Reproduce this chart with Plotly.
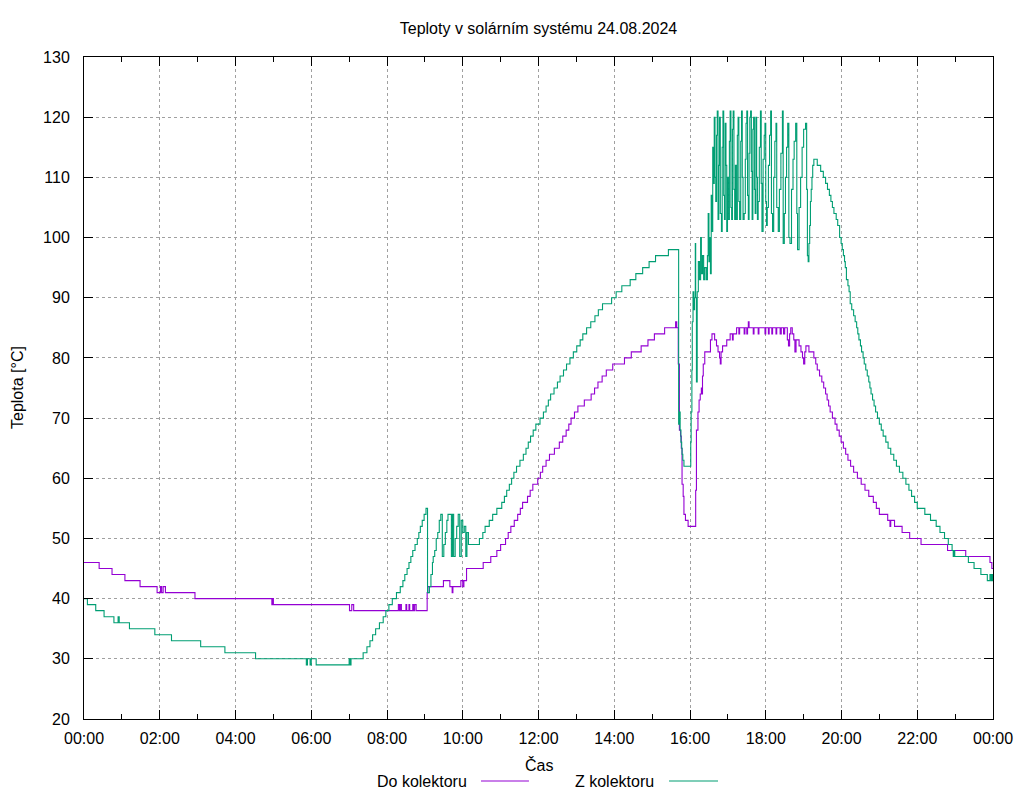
import plotly.graph_objects as go

# ---------------- data (time in hours, temperature in °C) ----------------
do_t = [0.00, 0.40, 0.74, 1.08, 1.48, 1.93, 2.02, 2.05, 2.09, 2.15, 2.93, 4.96, 4.98, 5.00,
        7.01, 7.07, 7.12, 8.30, 8.33, 8.36, 8.38, 8.50, 8.52, 8.58, 8.60, 8.68, 8.70, 8.73, 8.77,
        9.06, 9.08, 9.49, 9.66, 9.72, 9.74, 9.95, 10.00, 10.03, 10.10, 10.54, 10.74, 10.90,
        11.00, 11.13, 11.20, 11.27, 11.36, 11.45, 11.52, 11.58, 11.71, 11.78, 11.85, 11.98,
        12.05, 12.11, 12.20, 12.29, 12.42, 12.55, 12.64, 12.73, 12.80, 12.86, 12.95, 13.04,
        13.21, 13.39, 13.48, 13.57, 13.68, 13.79, 13.96, 14.27, 14.45, 14.71, 14.89, 15.06,
        15.33, 15.62, 15.65, 15.69, 15.72, 15.75, 15.77, 15.79, 15.82, 15.84, 15.88, 15.95,
        16.15, 16.17, 16.21, 16.24, 16.27, 16.30, 16.31, 16.33, 16.35, 16.39, 16.54, 16.58,
        16.65, 16.70, 16.74, 16.78, 16.80, 16.82, 16.86, 16.97, 17.06, 17.12, 17.14, 17.23,
        17.29, 17.31, 17.43, 17.45, 17.50, 17.52, 17.54, 17.56, 17.67, 17.69, 17.80, 17.82,
        17.98, 18.00, 18.07, 18.09, 18.16, 18.18, 18.27, 18.29, 18.38, 18.41, 18.47, 18.50,
        18.57, 18.60, 18.63, 18.66, 18.70, 18.74, 18.77, 18.80, 18.88, 18.93, 18.97, 19.00,
        19.03, 19.06, 19.14, 19.27, 19.32, 19.36, 19.42, 19.48, 19.53, 19.58, 19.62, 19.66,
        19.70, 19.76, 19.83, 19.88, 19.94, 19.99, 20.05, 20.11, 20.17, 20.24, 20.32, 20.42,
        20.52, 20.62, 20.72, 20.84, 20.92, 21.00, 21.22, 21.28, 21.30, 21.40, 21.60, 21.80,
        22.10, 22.80, 23.28, 23.92, 23.97, 24.00]
do_v = [46, 45, 44, 43, 42, 41, 42, 41, 42, 41, 40, 39, 40, 39,
        38, 39, 38, 39, 38, 39, 38, 39, 38, 39, 38, 39, 38, 39, 38,
        41, 42, 43, 42, 41, 42, 43, 42, 43, 45, 46, 47, 48,
        49, 50, 51, 52, 53, 54, 55, 56, 57, 58, 59, 60,
        61, 62, 63, 64, 65, 66, 67, 68, 69, 70, 71, 72,
        73, 74, 75, 76, 77, 78, 79, 80, 81, 82, 83, 84,
        85, 86, 85, 79, 68, 67, 65, 59, 57, 54, 53, 52,
        58, 68, 71, 73, 74, 75, 74, 77, 79, 81, 83, 84,
        83, 82, 81, 80, 79, 81, 82, 83, 84, 83, 84, 85,
        84, 85, 84, 85, 84, 85, 86, 85, 84, 85, 84, 85,
        84, 85, 84, 85, 84, 85, 84, 85, 84, 85, 84, 85,
        83, 82, 84, 85, 84, 83, 81, 83, 82, 81, 80, 79,
        81, 82, 81, 80, 79, 78, 77, 76, 75, 74, 73, 72,
        71, 70, 69, 68, 67, 66, 65, 64, 63, 62, 61, 60,
        59, 58, 57, 56, 55, 54, 53, 52, 53, 52, 51, 50,
        49, 48, 47, 46, 45, 45]

z_t = [0.00, 0.09, 0.31, 0.53, 0.79, 0.90, 0.93, 1.20, 1.87, 2.31, 3.08, 3.72, 4.53, 5.87,
       5.90, 5.97, 6.00, 6.13, 7.00, 7.03, 7.05, 7.37, 7.47, 7.55, 7.62, 7.70, 7.80, 7.90,
       7.97, 8.05, 8.14, 8.25, 8.35, 8.42, 8.47, 8.53, 8.58, 8.63, 8.68, 8.74, 8.80, 8.84,
       8.88, 8.93, 8.98, 9.03, 9.07, 9.12, 9.16, 9.20, 9.22, 9.26, 9.30, 9.34, 9.38, 9.42,
       9.46, 9.50, 9.54, 9.58, 9.61, 9.70, 9.73, 9.76, 9.80, 9.84, 9.88, 9.92, 9.96, 10.00,
       10.04, 10.08, 10.11, 10.15, 10.44, 10.53, 10.59, 10.70, 10.79, 10.90, 11.03, 11.10,
       11.16, 11.23, 11.29, 11.35, 11.42, 11.51, 11.60, 11.67, 11.73, 11.79, 11.86, 11.93,
       12.04, 12.13, 12.20, 12.26, 12.32, 12.41, 12.50, 12.57, 12.66, 12.74, 12.83, 12.92,
       13.01, 13.10, 13.17, 13.27, 13.38, 13.49, 13.58, 13.69, 13.93, 14.05, 14.20, 14.42,
       14.57, 14.75, 14.92, 15.09, 15.43, 15.70, 15.72, 15.74, 15.76, 15.78, 15.79, 15.81,
       15.84, 16.02, 16.03, 16.05, 16.06, 16.08, 16.10, 16.12, 16.14, 16.15, 16.17, 16.19,
       16.22, 16.25, 16.28, 16.30, 16.33, 16.36, 16.39, 16.43, 16.46, 16.48, 16.50, 16.52,
       16.54, 16.56, 16.58, 16.60, 16.62, 16.64, 16.66, 16.68, 16.70, 16.72, 16.74, 16.76,
       16.78, 16.80, 16.83, 16.85, 16.87, 16.89, 16.91, 16.93, 16.95, 16.97, 16.99, 17.02,
       17.04, 17.06, 17.08, 17.10, 17.12, 17.14, 17.16, 17.18, 17.20, 17.23, 17.25, 17.27,
       17.29, 17.31, 17.34, 17.36, 17.38, 17.40, 17.43, 17.46, 17.48, 17.50, 17.52, 17.54,
       17.56, 17.58, 17.60, 17.62, 17.64, 17.66, 17.68, 17.70, 17.72, 17.74, 17.76, 17.78,
       17.80, 17.83, 17.86, 17.88, 17.90, 17.93, 17.96, 17.98, 18.00, 18.02, 18.04, 18.07,
       18.10, 18.13, 18.15, 18.18, 18.21, 18.24, 18.27, 18.29, 18.33, 18.36, 18.40, 18.44,
       18.46, 18.49, 18.52, 18.55, 18.58, 18.61, 18.64, 18.68, 18.72, 18.75, 18.79, 18.82,
       18.84, 18.88, 18.92, 18.96, 19.00, 19.05, 19.08, 19.10, 19.12, 19.14, 19.16, 19.18,
       19.20, 19.22, 19.24, 19.27, 19.36, 19.45, 19.52, 19.58, 19.63, 19.68, 19.72, 19.76,
       19.80, 19.86, 19.90, 19.95, 19.99, 20.02, 20.05, 20.08, 20.10, 20.13, 20.17, 20.20,
       20.23, 20.27, 20.32, 20.36, 20.40, 20.43, 20.46, 20.50, 20.53, 20.57, 20.60, 20.64,
       20.68, 20.72, 20.75, 20.78, 20.82, 20.86, 20.90, 20.95, 21.00, 21.05, 21.10, 21.17,
       21.23, 21.30, 21.38, 21.45, 21.53, 21.62, 21.70, 21.78, 21.85, 21.93, 22.00, 22.20,
       22.35, 22.50, 22.60, 22.72, 22.82, 22.92, 22.95, 22.97, 22.99, 23.35, 23.50, 23.68,
       23.85, 23.92, 23.95, 23.97, 23.99, 24.00]
z_v = [40, 39, 38, 37, 36, 37, 36, 35, 34, 33, 32, 31, 30, 29,
       30, 29, 30, 29, 30, 29, 30, 31, 32, 33, 34, 35, 36, 37,
       38, 39, 40, 41, 42, 43, 44, 45, 46, 47, 48, 49, 50, 51,
       52, 53, 54, 55, 41, 42, 44, 46, 47, 48, 50, 51, 53, 54,
       47, 49, 51, 53, 54, 47, 54, 47, 50, 52, 54, 47, 53, 51,
       52, 47, 51, 49, 50, 51, 52, 53, 54, 55, 56, 57,
       58, 59, 60, 61, 62, 63, 64, 65, 66, 67, 68, 69,
       70, 71, 72, 73, 74, 75, 76, 77, 78, 79, 80, 81,
       82, 83, 84, 85, 86, 87, 88, 89, 90, 91, 92, 93,
       94, 95, 96, 97, 98, 69, 71, 68, 66, 65, 64, 63,
       62, 66, 71, 78, 86, 91, 88, 90, 99, 90, 76, 91,
       96, 93, 100, 94, 97, 93, 95, 93, 97, 104, 96, 100,
       94, 107, 101, 115, 109, 120, 110, 106, 117, 121, 103, 112,
       120, 104, 101, 115, 121, 107, 103, 119, 112, 101, 110, 103,
       116, 121, 105, 103, 118, 121, 108, 103, 112, 103, 117, 120,
       106, 103, 116, 121, 110, 103, 104, 113, 119, 121, 107, 103,
       114, 120, 121, 111, 103, 118, 120, 108, 104, 120, 110, 103,
       106, 115, 121, 109, 101, 113, 117, 119, 106, 102, 105, 112,
       117, 121, 104, 101, 110, 116, 119, 105, 101, 108, 114, 121,
       99, 104, 110, 115, 119, 100, 99, 108, 113, 116, 119, 104,
       98, 105, 110, 115, 118, 119, 108, 97, 96, 99, 102, 106,
       108, 110, 112, 113, 112, 111, 110, 109, 108, 107, 106, 105,
       104, 103, 102, 100, 99, 98, 97, 96, 95, 93, 92, 91,
       89, 88, 87, 86, 85, 84, 83, 82, 81, 80, 79, 78,
       77, 76, 75, 74, 73, 72, 71, 70, 69, 68, 67, 66,
       65, 64, 63, 62, 61, 60, 59, 58, 57, 56, 55, 54,
       53, 52, 51, 50, 49, 48, 47, 48, 47, 46, 45, 44,
       43, 44, 43, 44, 43, 43]

x_tickvals = [0, 2, 4, 6, 8, 10, 12, 14, 16, 18, 20, 22, 24]
x_ticktext = ["00:00", "02:00", "04:00", "06:00", "08:00", "10:00", "12:00",
              "14:00", "16:00", "18:00", "20:00", "22:00", "00:00"]
y_tickvals = [20, 30, 40, 50, 60, 70, 80, 90, 100, 110, 120, 130]

series_names = ["Do kolektoru", "Z kolektoru"]
series_colors = ["#9400d3", "#009e73"]

FONT = "Liberation Sans, Arial, sans-serif"

fig = go.Figure()
fig.add_trace(go.Scatter(x=do_t, y=do_v, mode="lines", name=series_names[0],
                         line=dict(color=series_colors[0], width=1.1, shape="hv")))
fig.add_trace(go.Scatter(x=z_t, y=z_v, mode="lines", name=series_names[1],
                         line=dict(color=series_colors[1], width=1.1, shape="hv")))

axis_common = dict(showline=True, linecolor="black", linewidth=1, mirror="ticks",
                   ticks="inside", tickcolor="black", tickwidth=1, ticklen=9,
                   showgrid=True, gridcolor="#a0a0a0", gridwidth=1, griddash="3px,3px",
                   zeroline=False, automargin=False,
                   tickfont=dict(family=FONT, size=16, color="black"))

fig.update_xaxes(range=[0, 24], tickmode="array", tickvals=x_tickvals, ticktext=x_ticktext,
                 minor=dict(ticks="inside", dtick=1, tick0=0, ticklen=5, tickcolor="black",
                            showgrid=False),
                 ticklabelstandoff=5, **axis_common)
fig.update_yaxes(range=[20, 130], tickmode="array", tickvals=y_tickvals,
                 ticklabelstandoff=10, **axis_common)

# legend drawn gnuplot-style: text, then sample line
leg_y = -0.0937
annotations = [
    dict(text="Teplota [°C]", xref="paper", yref="paper", x=-0.0737, y=0.5,
         textangle=-90, showarrow=False, font=dict(family=FONT, size=16, color="black"),
         xanchor="center", yanchor="middle"),
    dict(text="Čas", xref="paper", yref="paper", x=0.5, y=-0.0695, showarrow=False,
         font=dict(family=FONT, size=16, color="black"), xanchor="center", yanchor="middle"),
    dict(text=series_names[0], xref="paper", yref="paper", x=0.4235, y=leg_y, showarrow=False,
         font=dict(family=FONT, size=16, color="black"), xanchor="right", yanchor="middle"),
    dict(text=series_names[1], xref="paper", yref="paper", x=0.6293, y=leg_y, showarrow=False,
         font=dict(family=FONT, size=16, color="black"), xanchor="right", yanchor="middle"),
]
shapes = [
    dict(type="line", xref="paper", yref="paper", x0=0.4367, x1=0.4895, y0=leg_y, y1=leg_y,
         line=dict(color=series_colors[0], width=1.1)),
    dict(type="line", xref="paper", yref="paper", x0=0.6436, x1=0.6975, y0=leg_y, y1=leg_y,
         line=dict(color=series_colors[1], width=1.1)),
]

# page body has an 8px default margin, so the figure is 8px smaller and its margins shifted
fig.update_layout(
    width=1016, height=792,
    margin=dict(l=76, r=31, t=49, b=81),
    paper_bgcolor="white", plot_bgcolor="white",
    showlegend=False,
    title=dict(text="Teploty v solárním systému 24.08.2024", x=0.5, xref="paper",
               y=1 - 20 / 792, yref="container", xanchor="center", yanchor="middle",
               font=dict(family=FONT, size=16, color="black")),
    annotations=annotations, shapes=shapes,
)

fig.write_html("out.html")
